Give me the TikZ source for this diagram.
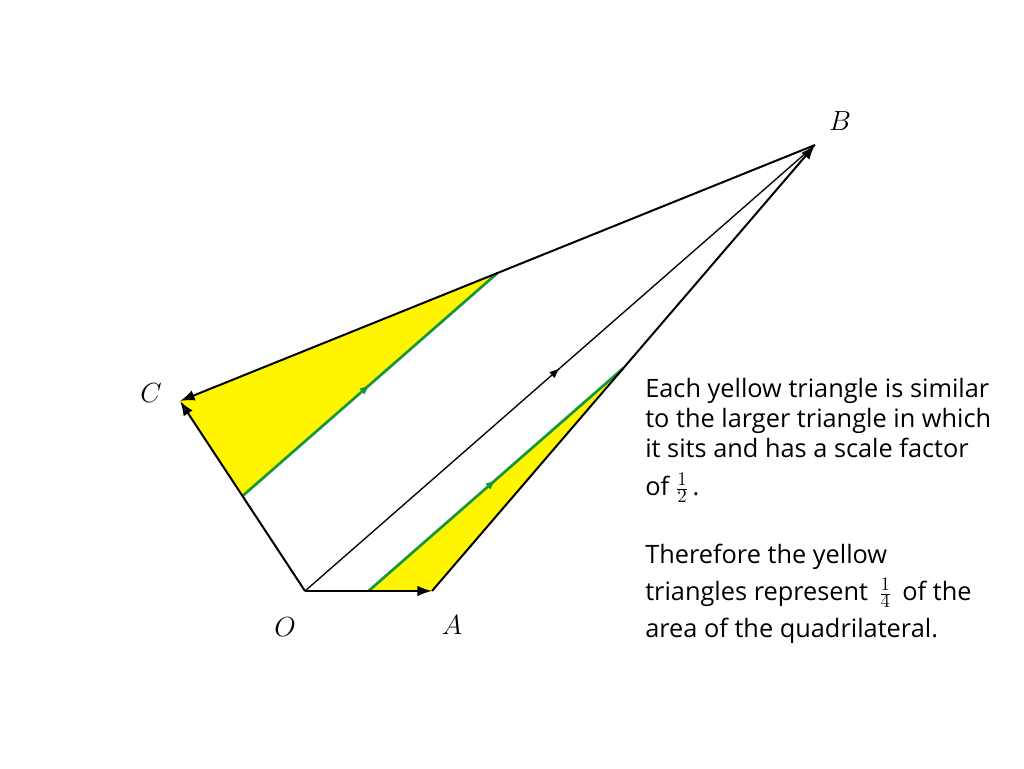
\documentclass[tikz,border=0pt]{standalone}
\usepackage{fontspec}
\setmainfont{Open Sans}
\usetikzlibrary{arrows.meta,decorations.markings,calc}
\definecolor{fillyel}{RGB}{255,245,0}
\definecolor{lgreen}{RGB}{20,150,60}
\tikzset{
  edge/.style={draw=black,line width=1.5pt},
  thinedge/.style={draw=black,line width=1pt},
  tip/.style={-{Latex[length=11pt,width=8pt]}},
  midarrow/.style={postaction={decorate},decoration={markings,mark=at position 0.5 with {\arrow{Latex[length=8pt,width=6pt]}}}},
  greenline/.style={draw=lgreen,line width=2pt},
  ptlabel/.style={font=\fontsize{21}{24}\selectfont},
  txt/.style={anchor=base west,inner sep=0pt,font=\fontsize{19}{22}\selectfont}
}
\begin{document}
\begin{tikzpicture}[x=0.75pt,y=-0.75pt]
\useasboundingbox[fill=white] (0,0) rectangle (1024,768);
\coordinate (O) at (305,591);
\coordinate (A) at (432,591);
\coordinate (B) at (815,145);
\coordinate (C) at (180,401);
\coordinate (M1) at ($(O)!0.5!(C)$);
\coordinate (M2) at ($(C)!0.5!(B)$);
\coordinate (M3) at ($(O)!0.5!(A)$);
\coordinate (M4) at ($(A)!0.5!(B)$);
\fill[fillyel] (C) -- (M2) -- (M1) -- cycle;
\fill[fillyel] (A) -- (M3) -- (M4) -- cycle;
\draw[greenline,midarrow] (M1) -- (M2);
\draw[greenline,midarrow] (M3) -- (M4);
\draw[thinedge,midarrow] (O) -- (B);
\draw[edge,tip] (O) -- (A);
\draw[edge,tip] (A) -- (B);
\draw[edge,tip] (B) -- (C);
\draw[edge,tip] (O) -- (C);
\node[ptlabel] (lB) at (840,121) {$B$};
\node[ptlabel] (lC) at (151,393) {$C$};
\node[ptlabel] (lO) at (285,627) {$O$};
\node[ptlabel] (lA) at (452,625) {$A$};
\node[txt] (t1) at (645,397) {Each yellow triangle is similar};
\node[txt] (t2) at (645,427) {to the larger triangle in which};
\node[txt] (t3) at (645,457) {it sits and has a scale factor};
\node[txt] (t4) at (645,495) {of $\frac{1}{2}$\,.};
\node[txt] (t5) at (645,563) {Therefore the yellow};
\node[txt] (t6) at (645,600) {triangles represent \,$\frac{1}{4}$\, of the};
\node[txt] (t7) at (645,637) {area of the quadrilateral.};
\end{tikzpicture}
\end{document}
